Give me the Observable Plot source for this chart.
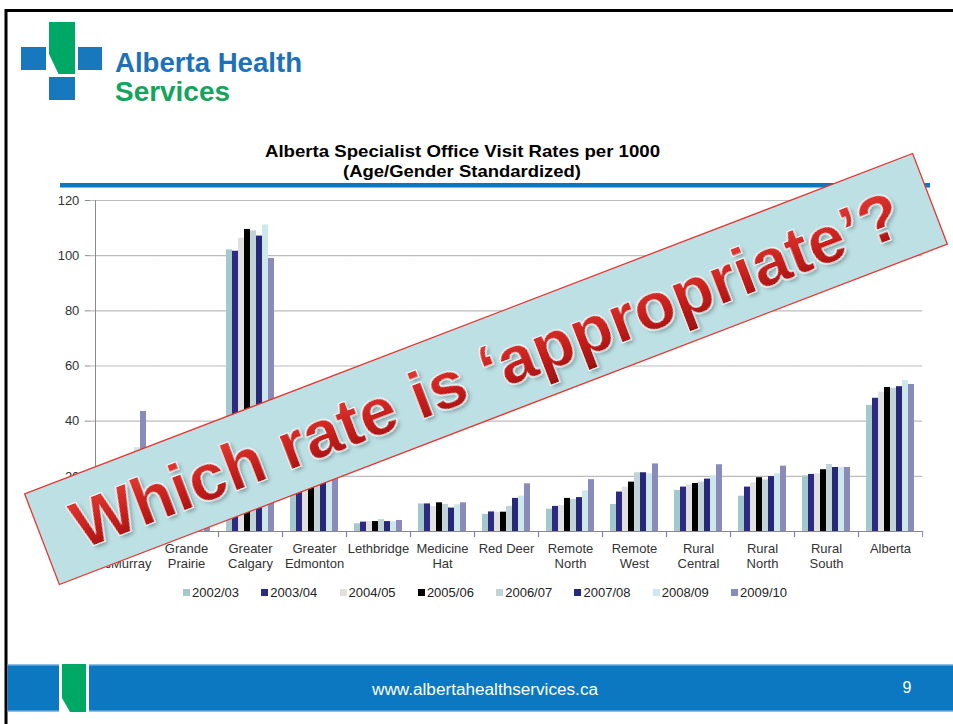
<!DOCTYPE html>
<html><head><meta charset="utf-8">
<script src="https://cdn.jsdelivr.net/npm/d3@7"></script>
<script src="https://cdn.jsdelivr.net/npm/@observablehq/plot@0.6"></script>
<style>
html,body{margin:0;padding:0;background:#fff;}
body{width:953px;height:724px;overflow:hidden;position:relative;font-family:"Liberation Sans",Arial,sans-serif;}
.layer{position:absolute;left:0;top:0;}
#chart{position:absolute;left:0;top:180px;}
#legend{position:absolute;left:183px;top:585px;display:flex;font-size:13px;color:#222;}
#legend .item{width:78.3px;display:flex;align-items:center;white-space:nowrap;}
#legend .sw{width:7px;height:7px;margin-right:2px;display:inline-block;}
</style></head><body>

<svg class="layer" width="953" height="724" id="bg">
  <rect x="6" y="10.5" width="960" height="800" fill="none" stroke="#000" stroke-width="3"/>
  <!-- logo -->
  <rect x="21" y="47" width="25" height="23" fill="#1878be"/>
  <rect x="78" y="47" width="24" height="23" fill="#1878be"/>
  <rect x="49" y="77" width="26" height="23" fill="#1878be"/>
  <path d="M49,22 L75,22 L75,74 L58.5,74 L49,54 Z" fill="#00a865"/>
  <text x="115" y="72" font-size="28" font-weight="bold" fill="#1c72b8" textLength="187" lengthAdjust="spacingAndGlyphs">Alberta Health</text>
  <text x="115" y="101" font-size="28" font-weight="bold" fill="#16a45c" textLength="115" lengthAdjust="spacingAndGlyphs">Services</text>
  <!-- title -->
  <text x="462.5" y="157" text-anchor="middle" font-size="16.5" font-weight="bold" fill="#000" textLength="395" lengthAdjust="spacingAndGlyphs">Alberta Specialist Office Visit Rates per 1000</text>
  <text x="462" y="177" text-anchor="middle" font-size="16.5" font-weight="bold" fill="#000" textLength="238" lengthAdjust="spacingAndGlyphs">(Age/Gender Standardized)</text>
  <rect x="60" y="183" width="870" height="4.5" fill="#0a77c2"/>
  <!-- footer -->
  <rect x="7.5" y="664" width="946" height="48" fill="#0b78c1"/>
  <rect x="7.5" y="664" width="946" height="1.5" fill="#8fc0e6"/>
  <rect x="7.5" y="710.5" width="946" height="1.5" fill="#8fc0e6"/>
  <rect x="59" y="664" width="30" height="48" fill="#ffffff"/>
  <path d="M62,664 L86,664 L86,712 L70,712 L62,698 Z" fill="#00a865"/>
  <text x="485" y="695" text-anchor="middle" font-size="16" fill="#fff" textLength="226" lengthAdjust="spacingAndGlyphs">www.albertahealthservices.ca</text>
  <text x="907" y="693" text-anchor="middle" font-size="16" fill="#fff">9</text>
</svg>

<div id="chart"></div>
<div id="legend"></div>

<svg class="layer" width="953" height="724" id="banner">
  <defs>
    <linearGradient id="red" x1="0" y1="0" x2="0" y2="1">
      <stop offset="0" stop-color="#e8433a"/>
      <stop offset="0.55" stop-color="#c8201c"/>
      <stop offset="1" stop-color="#9c1010"/>
    </linearGradient>
    <filter id="sh" x="-10%" y="-60%" width="120%" height="220%">
      <feMorphology in="SourceAlpha" operator="dilate" radius="1.5" result="d"/>
      <feFlood flood-color="#ffffff" flood-opacity="0.85"/>
      <feComposite in2="d" operator="in" result="w"/>
      <feGaussianBlur in="SourceAlpha" stdDeviation="2" result="b"/>
      <feOffset in="b" dx="2" dy="3" result="o"/>
      <feFlood flood-color="#000" flood-opacity="0.35"/>
      <feComposite in2="o" operator="in" result="s"/>
      <feMerge><feMergeNode in="s"/><feMergeNode in="w"/><feMergeNode in="SourceGraphic"/></feMerge>
    </filter>
  </defs>
  <g transform="translate(486,369) rotate(-20.98)">
    <rect x="-475.5" y="-48.5" width="951" height="97" fill="#bce0e4" stroke="#e8332e" stroke-width="1.3"/>
    <text x="0" y="24" text-anchor="middle" font-size="67" font-weight="bold" fill="url(#red)" filter="url(#sh)">Which rate is ‘appropriate’?</text>
  </g>
</svg>

<script>
const categories = ["Fort\nMcMurray","Grande\nPrairie","Greater\nCalgary","Greater\nEdmonton","Lethbridge","Medicine\nHat","Red Deer","Remote\nNorth","Remote\nWest","Rural\nCentral","Rural\nNorth","Rural\nSouth","Alberta"];
const seasons = ["2002/03","2003/04","2004/05","2005/06","2006/07","2007/08","2008/09","2009/10"];
const seasonColors = ["#a6c8cb","#2d2a82","#e0e0e0","#000000","#c0d3d5","#28287a","#cce8ec","#8b8bbb"];
const yTicks = [0,20,40,60,80,100,120];

const v2002_03 = [18, 22, 102.1, 20, 2.8, 10.0, 6.2, 8.1, 9.8, 14.9, 12.8, 20.1, 45.7];
const v2003_04 = [19, 23, 101.6, 21, 3.4, 10.0, 7.1, 9.1, 14.3, 16.1, 16.1, 20.7, 48.3];
const v2004_05 = [20, 24, 106.3, 22, 3.6, 9.1, 7.0, 9.4, 16.1, 16.9, 17.6, 20.9, 50.5];
const v2005_06 = [21, 25, 109.5, 23, 3.6, 10.4, 7.0, 12.0, 17.9, 17.4, 19.5, 22.4, 52.2];
const v2006_07 = [22, 25, 109.0, 23, 4.3, 9.8, 9.1, 11.6, 21.3, 17.9, 18.7, 24.3, 51.9];
const v2007_08 = [24, 26, 107.1, 24, 3.6, 8.5, 12.0, 12.3, 21.3, 19.0, 19.9, 23.2, 52.5];
const v2008_09 = [30.4, 27, 111.1, 24, 3.6, 9.7, 12.8, 14.7, 20.9, 20.1, 20.9, 23.2, 54.7];
const v2009_10 = [43.5, 29, 99.0, 25, 4.0, 10.4, 17.3, 18.8, 24.5, 24.2, 23.7, 23.2, 53.3];

const series = [v2002_03, v2003_04, v2004_05, v2005_06, v2006_07, v2007_08, v2008_09, v2009_10];
const data = seasons.flatMap((s, i) => categories.map((c, j) => ({region: c, season: s, value: series[i][j]})));

const W = 953, H = 391, ML = 88, MR = 30, MT = 20, MB = 40;
const padInner = 0.16, padOuter = padInner / 2;
const step = (W - ML - MR) / categories.length;
const halfGap = -step * padOuter; // extend each facet's rules across the gap so they read as continuous
const frameH = H - MT - MB;

const chart = Plot.plot({
  width: W,
  height: H,
  marginLeft: ML,
  marginRight: MR,
  marginTop: MT,
  marginBottom: MB,
  style: {fontFamily: "'Liberation Sans', Arial, sans-serif", fontSize: "13px", color: "#333", background: "none", overflow: "visible"},
  fx: {domain: categories, paddingInner: padInner, paddingOuter: padOuter, label: null},
  x: {domain: seasons, padding: 0, axis: null},
  y: {domain: [0, 120], label: null},
  color: {domain: seasons, range: seasonColors},
  marks: [
    Plot.ruleY(yTicks, {stroke: "#bcbcbc", strokeWidth: 1.2, insetLeft: halfGap, insetRight: halfGap}),
    Plot.barY(data, {fx: "region", x: "season", y: "value", fill: "season"}),
    Plot.ruleY([0], {stroke: "#8a8a8a", insetLeft: halfGap, insetRight: halfGap}),
    Plot.frame({anchor: "left", stroke: "#8a8a8a", insetLeft: halfGap, insetTop: frameH, insetBottom: -5}),
    Plot.frame({anchor: "right", stroke: "#8a8a8a", insetRight: halfGap, insetTop: frameH, insetBottom: -5}),
    Plot.frame({facet: "super", anchor: "left", stroke: "#8a8a8a"}),
    Plot.axisY(yTicks, {tickSize: 5, tickPadding: 6, dx: halfGap, stroke: "#8a8a8a", fill: "#333", fontSize: 13, label: null}),
    Plot.axisFx({anchor: "bottom", tickSize: 0, tickPadding: 11, fill: "#333", fontSize: 13, lineHeight: 1.15, label: null})
  ]
});
document.getElementById("chart").appendChild(chart);

const legend = document.getElementById("legend");
seasons.forEach((s, i) => {
  const item = document.createElement("span");
  item.className = "item";
  const sw = document.createElement("span");
  sw.className = "sw";
  sw.style.background = seasonColors[i];
  item.appendChild(sw);
  item.appendChild(document.createTextNode(s));
  legend.appendChild(item);
});
</script>
</body></html>
